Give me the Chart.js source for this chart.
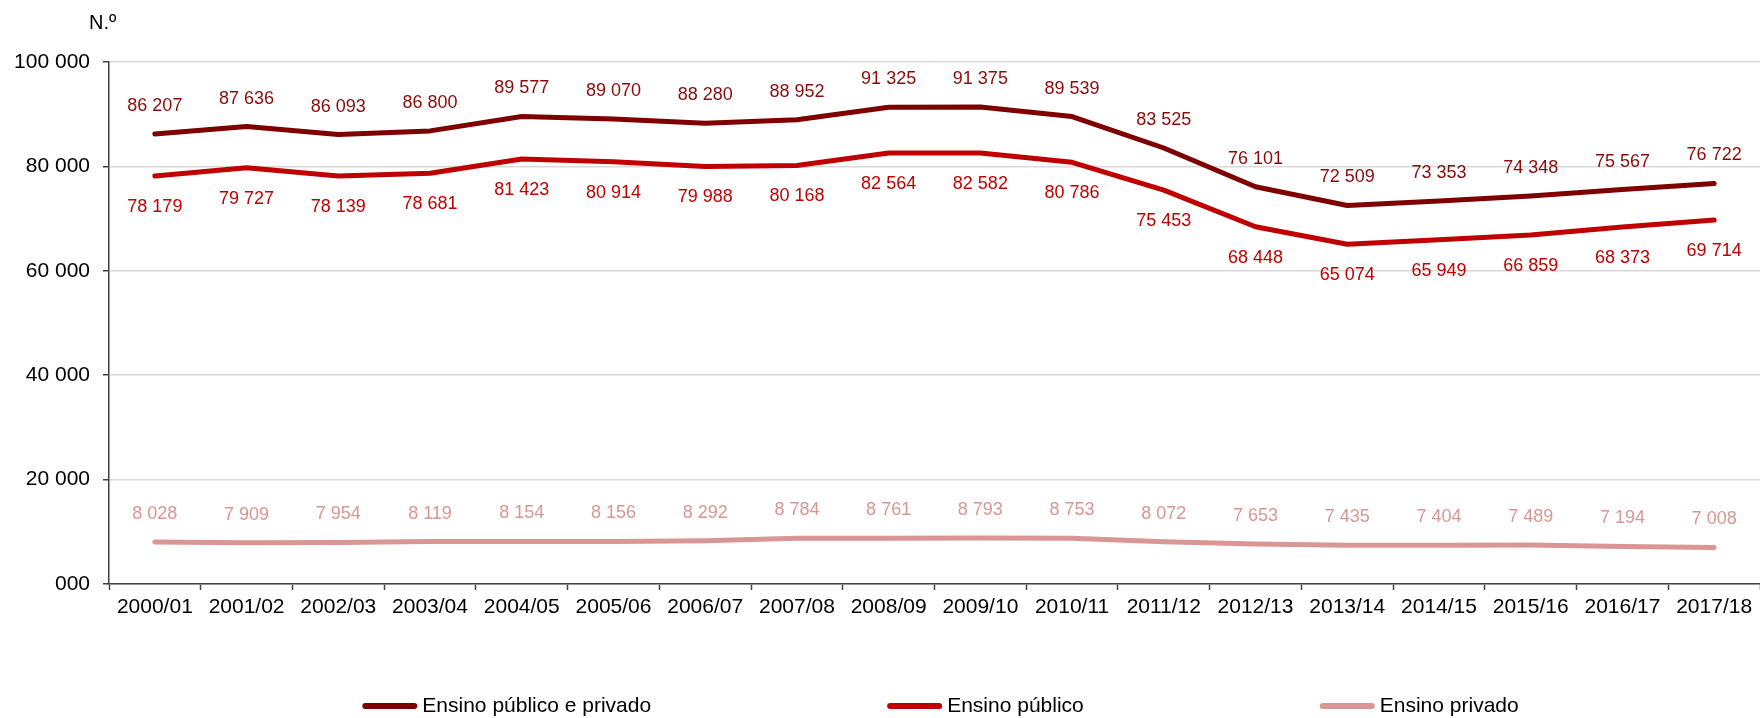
<!DOCTYPE html>
<html>
<head>
<meta charset="utf-8">
<script src="https://cdn.jsdelivr.net/npm/chart.js@4/dist/chart.umd.min.js"></script>
<style>
    html, body { margin: 0; padding: 0; background: #fff; }
    #wrap { width: 1760px; height: 718px; position: relative; }
</style>
</head>
<body>
<div id="wrap"><canvas id="chart"></canvas></div>
<script>
const years = ['2000/01', '2001/02', '2002/03', '2003/04', '2004/05', '2005/06', '2006/07', '2007/08', '2008/09',
    '2009/10', '2010/11', '2011/12', '2012/13', '2013/14', '2014/15', '2015/16', '2016/17', '2017/18'];

const totalStudents = [86207, 87636, 86093, 86800, 89577, 89070, 88280, 88952, 91325,
    91375, 89539, 83525, 76101, 72509, 73353, 74348, 75567, 76722];
const publicStudents = [78179, 79727, 78139, 78681, 81423, 80914, 79988, 80168, 82564,
    82582, 80786, 75453, 68448, 65074, 65949, 66859, 68373, 69714];
const privateStudents = [8028, 7909, 7954, 8119, 8154, 8156, 8292, 8784, 8761,
    8793, 8753, 8072, 7653, 7435, 7404, 7489, 7194, 7008];

const yTickLabels = ['000', '20 000', '40 000', '60 000', '80 000', '100 000'];

const FONT = '"Liberation Sans", Arial, sans-serif';

function formatNumber(n) {
    return n.toString().replace(/\B(?=(\d{3})+(?!\d))/g, ' ');
}

// point value labels + "N.º" + legend drawn straight on the canvas
const labelsPlugin = {
    id: 'valueLabels',
    afterDatasetsDraw(chart) {
        const ctx = chart.ctx;
        ctx.save();
        ctx.font = '18px ' + FONT;
        ctx.textAlign = 'center';
        ctx.textBaseline = 'middle';
        chart.data.datasets.forEach((ds, i) => {
            const meta = chart.getDatasetMeta(i);
            ctx.fillStyle = ds.labelColor;
            meta.data.forEach((pt, j) => {
                ctx.fillText(formatNumber(ds.data[j]), pt.x, pt.y + ds.labelOffset);
            });
        });

        // unit label
        ctx.font = '20px ' + FONT;
        ctx.fillStyle = '#000';
        ctx.textAlign = 'left';
        ctx.fillText('N.º', 89, 23);

        // legend
        ctx.font = '21px ' + FONT;
        const lineLen = 55, textGap = 5, itemGap = 236;
        const widths = chart.data.datasets.map(ds => lineLen + textGap + ctx.measureText(ds.label).width);
        const total = widths.reduce((a, b) => a + b, 0) + itemGap * (widths.length - 1);
        const area = chart.chartArea;
        let x = (area.left + area.right) / 2 - total / 2 + 6;
        const y = 706;
        chart.data.datasets.forEach((ds, i) => {
            ctx.strokeStyle = ds.borderColor;
            ctx.lineWidth = 6;
            ctx.lineCap = 'round';
            ctx.beginPath();
            ctx.moveTo(x + 3, y);
            ctx.lineTo(x + lineLen - 3, y);
            ctx.stroke();
            ctx.fillStyle = '#000';
            ctx.fillText(ds.label, x + lineLen + textGap, y);
            x += widths[i] + itemGap;
        });
        ctx.restore();
    }
};

const ctx = document.getElementById('chart').getContext('2d');
const chart = new Chart(ctx, {
    type: 'line',
    data: {
        labels: years,
        datasets: [
            {
                label: 'Ensino público e privado',
                data: totalStudents,
                borderColor: '#7F0000',
                labelColor: '#8B0A0A',
                labelOffset: -28
            },
            {
                label: 'Ensino público',
                data: publicStudents,
                borderColor: '#C00000',
                labelColor: '#C00000',
                labelOffset: 31
            },
            {
                label: 'Ensino privado',
                data: privateStudents,
                borderColor: '#D99694',
                labelColor: '#D99694',
                labelOffset: -28
            }
        ]
    },
    options: {
        responsive: true,
        maintainAspectRatio: false,
        animation: false,
        datasets: {
            line: {
                borderWidth: 5,
                pointRadius: 0,
                tension: 0,
                borderCapStyle: 'round',
                borderJoinStyle: 'round'
            }
        },
        layout: {
            padding: { top: 62, right: 0, bottom: 84, left: 0 }
        },
        plugins: {
            legend: { display: false },
            tooltip: { enabled: false }
        },
        scales: {
            x: {
                offset: true,
                grid: {
                    offset: true,
                    drawOnChartArea: false,
                    drawTicks: true,
                    tickLength: 6,
                    tickColor: '#404040',
                    tickWidth: 1.5
                },
                border: { color: '#404040', width: 1.5 },
                ticks: {
                    color: '#000',
                    font: { family: FONT, size: 21 },
                    padding: 5,
                    maxRotation: 0,
                    autoSkip: false
                },
                afterFit(scale) {
                    scale.height = 50;
                }
            },
            y: {
                min: 0,
                max: 100000,
                grid: {
                    color: '#D9D9D9',
                    lineWidth: 1.5,
                    tickLength: 6,
                    tickColor: '#404040',
                    tickWidth: 1.5
                },
                border: { color: '#404040', width: 1.5 },
                ticks: {
                    stepSize: 20000,
                    color: '#000',
                    font: { family: FONT, size: 21 },
                    padding: 13,
                    callback: (value, index) => yTickLabels[index]
                },
                afterFit(scale) {
                    scale.width = 109;
                }
            }
        }
    },
    plugins: [labelsPlugin]
});
</script>
</body>
</html>
